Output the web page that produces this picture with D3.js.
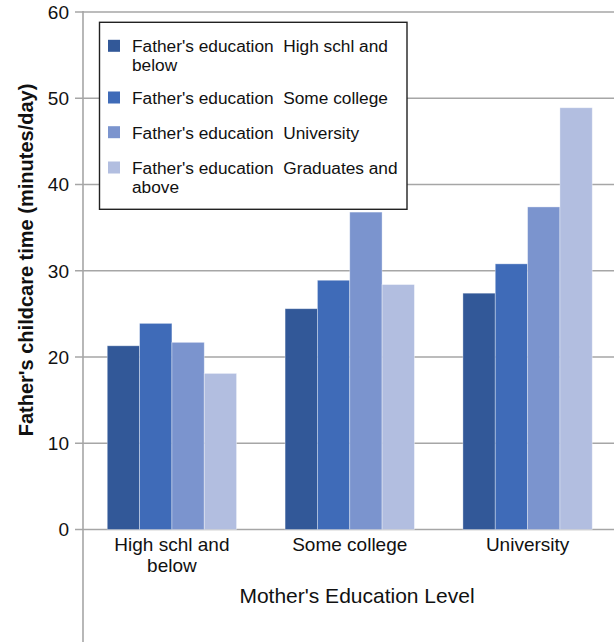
<!DOCTYPE html>
<html><head><meta charset="utf-8">
<script src="https://cdn.jsdelivr.net/npm/d3@7"></script>
<style>
html,body{margin:0;padding:0;background:#fff;}
svg{display:block;font-family:"Liberation Sans",Arial,sans-serif;}
</style></head>
<body>
<svg id="c" width="614" height="642"></svg>
<script>
const categories = [["High schl and","below"],["Some college"],["University"]];
const categoryKeys = ["High schl and below","Some college","University"];
const seriesNames = [
  ["Father's education  High schl and","below"],
  ["Father's education  Some college"],
  ["Father's education  University"],
  ["Father's education  Graduates and","above"]
];
const seriesKeys = ["hs","sc","uni","grad"];
const seriesColors = ["#325898","#3f6bb8","#7b94ce","#b2bee0"];
const valuesHS   = [21.3, 25.6, 27.4];
const valuesSC   = [23.9, 28.9, 30.8];
const valuesUni  = [21.7, 36.8, 37.4];
const valuesGrad = [18.1, 28.4, 48.9];
const yTicks = [0,10,20,30,40,50,60];
const yTitle = "Father's childcare time (minutes/day)";
const xTitle = "Mother's Education Level";

const seriesValues = [valuesHS, valuesSC, valuesUni, valuesGrad];
const svg = d3.select("#c");

const y = d3.scaleLinear().domain([0,60]).range([529.5,12]);
const x = d3.scaleBand().domain(categoryKeys).range([83,616.5]).padding(0);
const step = x.step();
const barW = step/5.5;
const xs = d3.scaleBand().domain(seriesKeys).range([0.75*barW, step-0.75*barW]).padding(0);

// gridlines
svg.append("g").selectAll("line").data(yTicks).join("line")
  .attr("x1",75).attr("x2",614)
  .attr("y1",d=>y(d)).attr("y2",d=>y(d))
  .attr("stroke","#a6a6a6").attr("stroke-width",1.6);

// bars
seriesKeys.forEach((k,si)=>{
  svg.append("g").selectAll("rect").data(categoryKeys).join("rect")
    .attr("x",(c)=>x(c)+xs(k))
    .attr("width",xs.bandwidth())
    .attr("y",(c,i)=>y(seriesValues[si][i]))
    .attr("height",(c,i)=>y(0)-y(seriesValues[si][i]))
    .attr("fill",seriesColors[si])
    .attr("stroke","rgba(255,255,255,0.45)").attr("stroke-width",0.8);
});

// y axis line
svg.append("line").attr("x1",83).attr("x2",83).attr("y1",11).attr("y2",642)
  .attr("stroke","#a6a6a6").attr("stroke-width",1.6);

// y tick labels
svg.append("g").selectAll("text").data(yTicks).join("text")
  .attr("x",69).attr("y",d=>y(d)).attr("dy","0.36em")
  .attr("text-anchor","end").attr("font-size",19).attr("fill","#111")
  .text(d=>d);

// x category labels
categories.forEach((lines,i)=>{
  const t = svg.append("text").attr("text-anchor","middle").attr("font-size",19).attr("fill","#111");
  lines.forEach((ln,j)=>{
    t.append("tspan").attr("x",x(categoryKeys[i])+step/2).attr("y",550.5+j*21).text(ln);
  });
});

// x title
svg.append("text").attr("x",357).attr("y",602.5).attr("text-anchor","middle")
  .attr("font-size",21).attr("fill","#111").text(xTitle);

// y title
svg.append("text").attr("transform","translate(33,260) rotate(-90)")
  .attr("text-anchor","middle").attr("font-size",20).attr("font-weight","bold")
  .attr("fill","#111").text(yTitle);

// legend
const lg = svg.append("g");
lg.append("rect").attr("x",99.5).attr("y",22.3).attr("width",307.5).attr("height",187)
  .attr("fill","#fff").attr("stroke","#222").attr("stroke-width",1.4);
const baselines = [52.3,104,138.7,174];
seriesNames.forEach((lines,i)=>{
  lg.append("rect").attr("x",108).attr("y",baselines[i]-12.5).attr("width",12).attr("height",12)
    .attr("fill",seriesColors[i]);
  const t = lg.append("text").attr("font-size",17.3).attr("fill","#111");
  lines.forEach((ln,j)=>{
    t.append("tspan").attr("x",132).attr("y",baselines[i]+j*18.6).attr("xml:space","preserve").text(ln);
  });
});
</script>
</body></html>
